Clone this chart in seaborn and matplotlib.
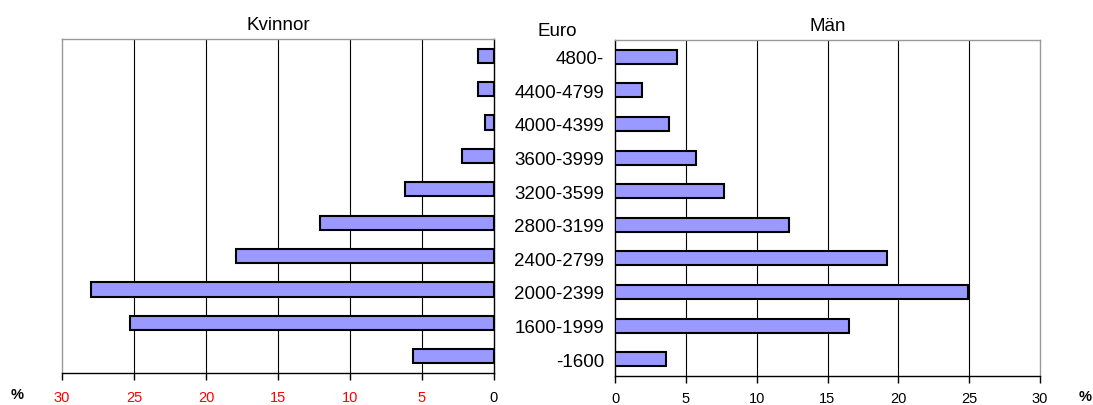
import matplotlib
matplotlib.use("Agg")
import matplotlib.pyplot as plt
import seaborn as sns
import pandas as pd

# income brackets (top to bottom) and shares in percent
categories = ["4800-", "4400-4799", "4000-4399", "3600-3999", "3200-3599",
              "2800-3199", "2400-2799", "2000-2399", "1600-1999", "-1600"]
women = [1.1, 1.1, 0.6, 2.2, 6.2, 12.1, 17.9, 28.0, 25.3, 5.6]
men = [4.4, 1.9, 3.8, 5.7, 7.7, 12.3, 19.2, 24.9, 16.5, 3.6]
xticks = [0, 5, 10, 15, 20, 25, 30]

sns.set_theme(style="white")
plt.rcParams["font.family"] = ["Liberation Sans", "DejaVu Sans"]
plt.rcParams["text.color"] = "black"
plt.rcParams["xtick.color"] = "black"
plt.rcParams["ytick.color"] = "black"
plt.rcParams["axes.labelcolor"] = "black"

df = pd.DataFrame({"Euro": categories, "Kvinnor": women, "Män": men})

BAR = "#9999ff"
fig = plt.figure(figsize=(10.93, 4.06), dpi=100)
ax_l = fig.add_axes([62 / 1093, 1 - 374 / 406, 432 / 1093, 334 / 406])
ax_r = fig.add_axes([615 / 1093, 1 - 377 / 406, 425 / 1093, 336 / 406])

for ax, col in [(ax_l, "Kvinnor"), (ax_r, "Män")]:
    sns.barplot(data=df, x=col, y="Euro", orient="h", color=BAR,
                edgecolor="black", linewidth=1.5, width=0.42, saturation=1,
                ax=ax, zorder=3)
    ax.set_xlim(0, 30)
    ax.set_ylim(9.5, -0.5)
    ax.set_xticks(xticks)
    ax.set_xlabel("")
    ax.set_ylabel("")
    ax.set_title(col, fontsize=13.5, pad=7)
    for x in xticks[1:-1]:
        ax.axvline(x, color="black", lw=0.8, zorder=1)
    ax.tick_params(axis="x", direction="out", length=5, width=1, color="black",
                   labelsize=10.5, bottom=True)
    for s in ax.spines.values():
        s.set_color("#999999")
        s.set_linewidth(1)
    ax.spines["bottom"].set_color("black")

# left panel runs from 30 to 0
ax_l.set_xlim(30, 0)
ax_l.set_yticks([])
ax_l.spines["right"].set_color("black")
ax_l.tick_params(axis="x", pad=7)
for lbl in ax_l.get_xticklabels():
    if lbl.get_text() != "0":
        lbl.set_color("red")

ax_r.spines["left"].set_color("black")
ax_r.tick_params(axis="x", pad=6)
ax_r.tick_params(axis="y", length=0, labelsize=13.5, pad=8)

fig.text(557 / 1093, 1 - 32 / 406, "Euro", ha="center", va="center", fontsize=13.5)
fig.text(17 / 1093, 1 - 395 / 406, "%", ha="center", va="center", fontsize=10.5, fontweight="bold")
fig.text(1085 / 1093, 1 - 397 / 406, "%", ha="center", va="center", fontsize=10.5, fontweight="bold")

fig.savefig("out.png", dpi=100)
